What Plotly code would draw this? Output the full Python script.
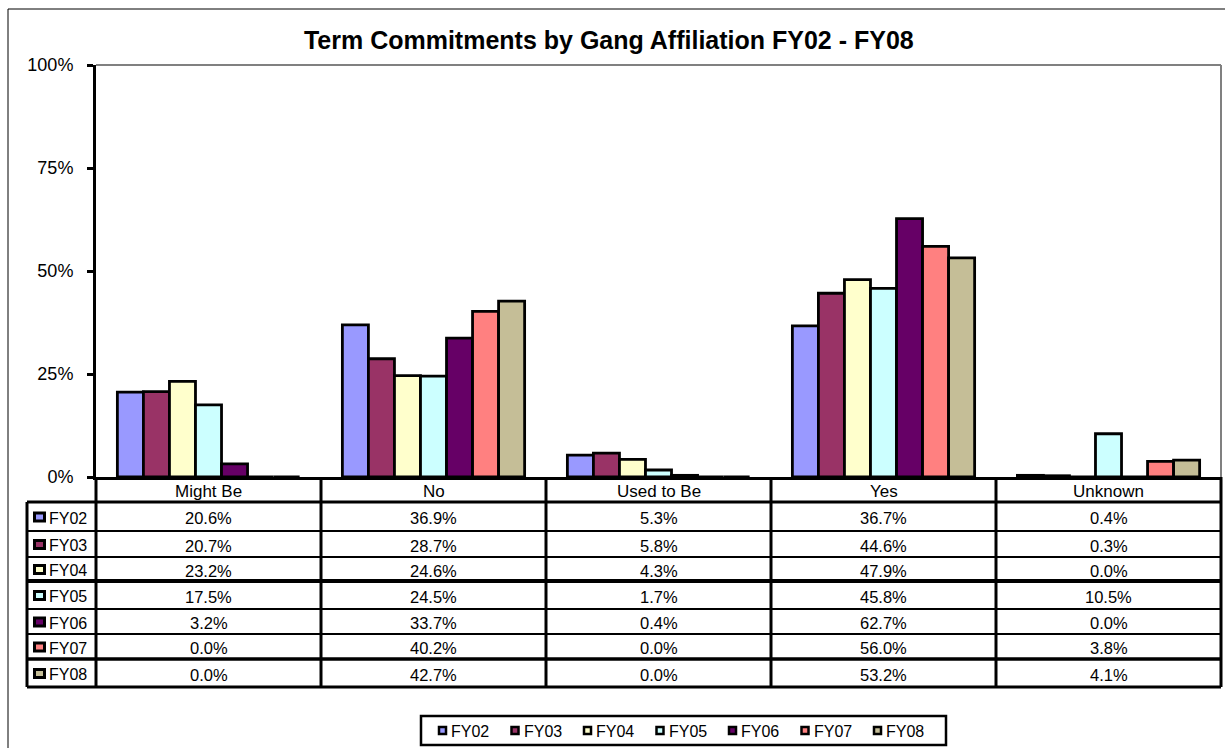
import plotly.graph_objects as go

# ---------------- data ----------------
categories = ["Might Be", "No", "Used to Be", "Yes", "Unknown"]
series_names = ["FY02", "FY03", "FY04", "FY05", "FY06", "FY07", "FY08"]
fy02 = [20.6, 36.9, 5.3, 36.7, 0.4]
fy03 = [20.7, 28.7, 5.8, 44.6, 0.3]
fy04 = [23.2, 24.6, 4.3, 47.9, 0.0]
fy05 = [17.5, 24.5, 1.7, 45.8, 10.5]
fy06 = [3.2, 33.7, 0.4, 62.7, 0.0]
fy07 = [0.0, 40.2, 0.0, 56.0, 3.8]
fy08 = [0.0, 42.7, 0.0, 53.2, 4.1]
series_values = [fy02, fy03, fy04, fy05, fy06, fy07, fy08]
colors = ["#9999FF", "#993366", "#FFFFCC", "#CCFFFF", "#660066", "#FF8080", "#C5BE97"]
y_tick_vals = [0, 25, 50, 75, 100]
y_tick_text = ["0%", "25%", "50%", "75%", "100%"]

FONT = "Liberation Sans, Arial, sans-serif"
W, H = 1225, 748
L, R, T, B = 96, 4, 65, 271
PW = W - L - R
PH = H - T - B
BASE = T + PH  # pixel y of 0%


def py(p):
    return (BASE - p) / PH


def pxx(p):
    return (p - L) / PW


fig = go.Figure()
for name, vals, col in zip(series_names, series_values, colors):
    fig.add_trace(go.Bar(
        name=name, x=categories, y=vals,
        marker=dict(color=col, line=dict(color="black", width=2.8)),
        showlegend=False, hoverinfo="skip",
    ))

shapes = []
annotations = []

# plot-area gray border (top/right)
shapes.append(dict(type="line", xref="paper", yref="paper", x0=0, x1=1, y0=1, y1=1,
                   line=dict(color="#808080", width=2)))
shapes.append(dict(type="line", xref="paper", yref="paper", x0=1, x1=1, y0=0, y1=1,
                   line=dict(color="#808080", width=2)))

# outer chart border
shapes.append(dict(type="rect", xref="paper", yref="paper",
                   x0=pxx(8), x1=pxx(1240), y0=py(9), y1=py(760),
                   line=dict(color="black", width=1), fillcolor="rgba(0,0,0,0)"))

# ---------------- data table ----------------
header_bottom = 502
row_bounds = [502, 531, 557, 581, 609, 634, 659, 687]
row_line_w = [2, 2, 4, 2, 2, 3.5, 3]
label_left = 27
ncat = len(categories)
table_bottom = row_bounds[-1]

# vertical lines
for k in range(ncat + 1):
    xp = k / ncat
    shapes.append(dict(type="line", xref="paper", yref="paper", x0=xp, x1=xp,
                       y0=py(BASE), y1=py(table_bottom), line=dict(color="black", width=3)))
shapes.append(dict(type="line", xref="paper", yref="paper", x0=pxx(label_left), x1=pxx(label_left),
                   y0=py(header_bottom), y1=py(table_bottom), line=dict(color="black", width=3)))
# header bottom line
shapes.append(dict(type="line", xref="paper", yref="paper", x0=pxx(label_left), x1=1,
                   y0=py(header_bottom), y1=py(header_bottom), line=dict(color="black", width=3)))
# row lines
for yb, lw in zip(row_bounds[1:], row_line_w):
    shapes.append(dict(type="line", xref="paper", yref="paper", x0=pxx(label_left), x1=1,
                       y0=py(yb), y1=py(yb), line=dict(color="black", width=lw)))

# header labels
for c in categories:
    annotations.append(dict(x=c, xref="x", y=py((BASE + header_bottom) / 2 + 2), yref="paper",
                            text=c, showarrow=False, font=dict(family=FONT, size=17, color="black"),
                            xanchor="center", yanchor="middle"))

# rows
for i, (name, vals, col) in enumerate(zip(series_names, series_values, colors)):
    top, bot = row_bounds[i], row_bounds[i + 1]
    yc = (top + bot) / 2 + 1.5
    # key
    shapes.append(dict(type="rect", xref="paper", yref="paper",
                       x0=pxx(34.5), x1=pxx(44.5), y0=py(yc - 5), y1=py(yc + 3),
                       fillcolor=col, line=dict(color="black", width=3)))
    annotations.append(dict(x=pxx(47), xref="paper", y=py(yc), yref="paper", text=name,
                            showarrow=False, font=dict(family=FONT, size=16, color="black"),
                            xanchor="left", yanchor="middle"))
    for c, v in zip(categories, vals):
        annotations.append(dict(x=c, xref="x", y=py(yc), yref="paper", text=f"{v:.1f}%",
                                showarrow=False, font=dict(family=FONT, size=16.5, color="black"),
                                xanchor="center", yanchor="middle"))

# ---------------- legend (bottom box) ----------------
leg_x0, leg_x1, leg_y0, leg_y1 = 421, 946, 716, 745
shapes.append(dict(type="rect", xref="paper", yref="paper",
                   x0=pxx(leg_x0), x1=pxx(leg_x1), y0=py(leg_y0), y1=py(leg_y1),
                   line=dict(color="black", width=2.5), fillcolor="white"))
leg_yc = (leg_y0 + leg_y1) / 2
pitch = 72.5
for i, (name, col) in enumerate(zip(series_names, colors)):
    kx = 439 + pitch * i
    shapes.append(dict(type="rect", xref="paper", yref="paper",
                       x0=pxx(kx), x1=pxx(kx + 7), y0=py(leg_yc - 3.5), y1=py(leg_yc + 3.5),
                       fillcolor=col, line=dict(color="black", width=2.5)))
    annotations.append(dict(x=pxx(kx + 10), xref="paper", y=py(leg_yc + 1), yref="paper", text=name,
                            showarrow=False, font=dict(family=FONT, size=16, color="black"),
                            xanchor="left", yanchor="middle"))

fig.update_layout(
    width=W, height=H,
    margin=dict(l=L, r=R, t=T, b=B),
    paper_bgcolor="white", plot_bgcolor="white",
    barmode="group", bargap=0.19, bargroupgap=0,
    title=dict(text="<b>Term Commitments by Gang Affiliation FY02 - FY08</b>",
               x=0.497, xref="container", xanchor="center",
               y=1 - 40 / H, yref="container", yanchor="middle",
               font=dict(family=FONT, size=25, color="black")),
    xaxis=dict(range=[-0.5, 4.5], showticklabels=False, ticks="", showgrid=False,
               showline=True, linecolor="black", linewidth=3, zeroline=False, fixedrange=True),
    yaxis=dict(range=[0, 100], tickvals=y_tick_vals, ticktext=y_tick_text, ticks="outside",
               ticklen=6, tickwidth=3, tickcolor="black", showgrid=False, showline=True,
               linecolor="black", linewidth=3, zeroline=False, ticklabelstandoff=10,
               tickfont=dict(family=FONT, size=18, color="black"), fixedrange=True),
    shapes=shapes,
    annotations=annotations,
    showlegend=False,
)

fig.write_html("out.html", config={"displayModeBar": False},
               post_script="document.body.style.margin='0';document.body.style.overflow='hidden';")
